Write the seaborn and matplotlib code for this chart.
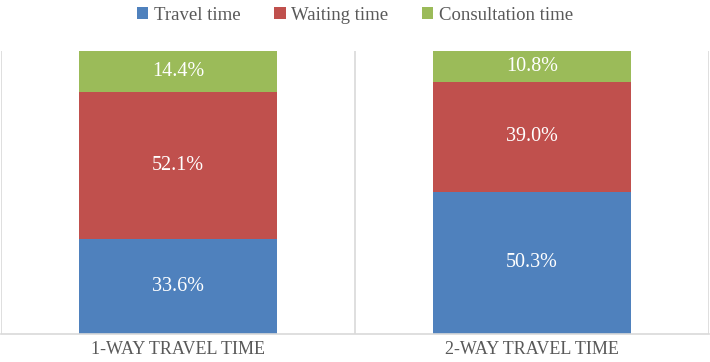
import matplotlib
matplotlib.use("Agg")
import matplotlib.pyplot as plt
import seaborn as sns
import pandas as pd
import numpy as np
from matplotlib.patches import Patch

categories = ["1-WAY TRAVEL TIME", "2-WAY TRAVEL TIME"]
series = ["Travel time", "Waiting time", "Consultation time"]
travel = [33.6, 50.3]
waiting = [52.1, 39.0]
consult = [14.4, 10.8]
colors = ["#4F81BD", "#C0504D", "#9BBB59"]

sns.set_theme(style="white")
plt.rcParams["font.family"] = ["Liberation Serif", "DejaVu Serif"]

vals = np.array([travel, waiting, consult])
cum = np.cumsum(vals, axis=0)

fig = plt.figure(figsize=(7.1, 3.62), dpi=100)
ax = fig.add_axes([1/710, 28/362, 708/710, 283/362])

for i in reversed(range(3)):
    df = pd.DataFrame({"cat": categories, "val": cum[i]})
    sns.barplot(data=df, x="cat", y="val", color=colors[i], width=0.56,
                saturation=1, ax=ax, edgecolor="none", linewidth=0)

for j in range(2):
    for i in range(3):
        base = cum[i][j] - vals[i][j]
        ax.text(j, base + vals[i][j] / 2, f"{vals[i][j]:.1f}%", ha="center",
                va="center", color="white", fontsize=14.5)

ax.set_xlim(-0.5, 1.5)
ax.set_ylim(0, cum[-1].max())
ax.set_xlabel("")
ax.set_ylabel("")
ax.set_yticks([])
for s in ["top", "left", "right"]:
    ax.spines[s].set_visible(False)
ax.spines["bottom"].set_color("#D9D9D9")
ax.spines["bottom"].set_linewidth(1.2)
for x in [-0.5, 0.5, 1.5]:
    ax.axvline(x, color="#D9D9D9", lw=1.2, zorder=0)
ax.tick_params(axis="x", length=0, pad=5, labelsize=13, labelcolor="#595959")

handles = [Patch(facecolor=c, edgecolor="none") for c in colors]
fig.legend(handles, series, loc="center", bbox_to_anchor=(0.5, 1 - 15/362), ncol=3,
           frameon=False, fontsize=13.5, handlelength=0.6, handleheight=0.6,
           handletextpad=0.3, columnspacing=1.8, labelcolor="#595959")

fig.savefig("out.png", dpi=100)
